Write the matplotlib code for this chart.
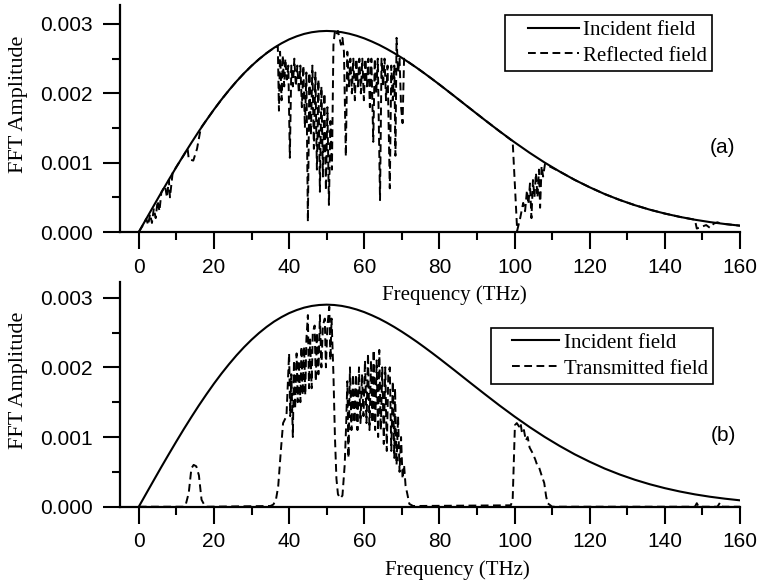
import matplotlib
matplotlib.use("Agg")
import matplotlib.pyplot as plt
import numpy as np
from matplotlib.ticker import MultipleLocator, FormatStrFormatter
from matplotlib.legend_handler import HandlerLine2D

# ---------------- data ----------------
freq_inc = [0, 2, 4, 6, 8, 10, 12, 14, 16, 18, 20, 22, 24, 26, 28, 30, 32, 34, 36, 38,
            40, 42, 44, 46, 48, 50, 52, 54, 56, 58, 60, 62, 64, 66, 68, 70, 72, 74, 76, 78,
            80, 84, 88, 92, 96, 100, 104, 108, 112, 116, 120, 124, 128, 132, 136, 140,
            144, 148, 152, 156, 160]
amp_inc = [0.0, 0.000191, 0.000381, 0.00057, 0.000755, 0.000937, 0.001115, 0.001287,
           0.001454, 0.001613, 0.001766, 0.00191, 0.002045, 0.002172, 0.002289, 0.002396,
           0.002493, 0.00258, 0.002657, 0.002722, 0.002778, 0.002822, 0.002857, 0.002881,
           0.002895, 0.0029, 0.002895, 0.002882, 0.00286, 0.00283, 0.002793, 0.002748,
           0.002698, 0.002641, 0.002579, 0.002512, 0.002441, 0.002367, 0.002289, 0.002209,
           0.002127, 0.001959, 0.001788, 0.001619, 0.001453, 0.001294, 0.001143, 0.001002,
           0.000872, 0.000752, 0.000645, 0.000547, 0.000462, 0.000387, 0.000322, 0.000266,
           0.000218, 0.000177, 0.000143, 0.000115, 0.0000914]

freq_refl = [0, 1, 2, 2.5, 3, 3.5, 4, 4.5, 5, 5.5, 6, 6.5, 7, 7.5, 8, 8.3, 9, 10, 12, 13,
             13.3, 14.5, 15.5, 16.5, 18, 20, 22, 24, 26, 28, 30, 32, 34, 36,
             37.0, 37.3, 37.6, 38.0, 38.3, 38.7, 39.0, 39.4, 39.8, 40.2, 40.6, 41.0, 41.4,
             41.8, 42.2, 42.6, 43.0, 43.4, 43.8, 44.2, 44.6, 45.0, 45.4, 45.8, 46.2, 46.6,
             47.0, 47.4, 47.8, 48.2, 48.6, 49.0, 49.4, 49.8, 50.2, 50.6, 51.0, 51.4, 51.8,
             52.2, 52.6, 53.0, 53.4, 53.8, 54.2, 54.6, 55.1, 55.5, 55.9, 56.3, 56.7, 57.1,
             57.5, 57.9, 58.3, 58.7, 59.1, 59.5, 59.9, 60.3, 60.7, 61.1, 61.5, 61.9, 62.4,
             62.8, 63.2, 63.6, 64.2, 64.6, 65.0, 65.4, 65.8, 66.2, 66.8, 67.2, 67.6, 68.0,
             68.3, 68.6, 69.0, 69.4, 69.8, 70.2, 70.6,
             72, 74, 76, 78, 80, 84, 88, 92, 96, 99.5, 100.7, 101.5, 102.3, 102.8, 103.3,
             103.7, 104.1, 104.5, 104.9, 105.3, 105.7, 106.1, 106.5, 106.8, 107.2, 107.6,
             108.1, 112, 116, 120, 124, 128, 132, 136, 140, 144, 148, 148.5, 150, 151, 152,
             153, 154, 155, 156, 160]
amp_refl = [0.0, 0.00009, 0.00019, 0.0001, 0.00026, 0.00013, 0.00034, 0.0002, 0.00045,
            0.0003, 0.00057, 0.00062, 0.00066, 0.0005, 0.00075, 0.0005, 0.00085, 0.00094,
            0.00111, 0.0012, 0.00105, 0.00103, 0.0012, 0.0015, 0.001613, 0.001766, 0.00191,
            0.002045, 0.002172, 0.002289, 0.002396, 0.002493, 0.00258, 0.002657,
            0.00268, 0.00175, 0.0026, 0.0019, 0.00255, 0.0021, 0.0025, 0.0022, 0.0024,
            0.00107, 0.0024, 0.0021, 0.0025, 0.0021, 0.0024, 0.002, 0.0024, 0.0018, 0.0024,
            0.0015, 0.0023, 0.00015, 0.0023, 0.0014, 0.0024, 0.0012, 0.0023, 0.0009, 0.0022,
            0.00058, 0.0021, 0.0008, 0.002, 0.0006, 0.0018, 0.00039, 0.0016, 0.0009, 0.0027,
            0.0029, 0.00285, 0.0029, 0.0028, 0.0027, 0.0028, 0.0026, 0.00109, 0.0026, 0.0021,
            0.0025, 0.0020, 0.0025, 0.0019, 0.0025, 0.0021, 0.0025, 0.0020, 0.0025, 0.0019,
            0.0025, 0.0021, 0.0025, 0.0018, 0.0025, 0.0013, 0.0025, 0.0020, 0.0025, 0.00046,
            0.0025, 0.0021, 0.0025, 0.0019, 0.0024, 0.00063, 0.0024, 0.0019, 0.0024, 0.0011,
            0.0028, 0.0023, 0.0025, 0.0018, 0.00157, 0.0025,
            0.002441, 0.002367, 0.002289, 0.002209, 0.002127, 0.001959, 0.001788, 0.001619,
            0.001453, 0.00131, 0.00002, 0.0002, 0.00042, 0.0003, 0.0006, 0.0004, 0.0007,
            0.0002, 0.00075, 0.0005, 0.00085, 0.0005, 0.0009, 0.00035, 0.00095, 0.0008,
            0.00098, 0.000872, 0.000752, 0.000645, 0.000547, 0.000462, 0.000387, 0.000322,
            0.000266, 0.000218, 0.000177, 0.00005, 0.00008, 0.0001, 0.00006, 0.00012,
            0.00014, 0.00012, 0.000115, 0.0000914]

freq_trans = [0, 12, 12.5, 13.3, 14, 14.6, 15.3, 16, 16.7, 17.5, 18, 35, 35.8, 36.5, 37.1,
              37.8, 38.4, 39.3, 40.0, 40.3, 40.6, 41.0, 41.3, 41.6, 42.0, 42.3, 42.6, 43.0,
              43.3, 43.6, 44.0, 44.3, 44.6, 45.0, 45.3, 45.6, 46.0, 46.3, 46.8, 47.1, 47.4,
              47.8, 48.2, 48.6, 49.0, 49.5, 49.8, 50.2, 50.7, 51.0, 51.3, 51.8, 52.2, 52.6,
              53.0, 53.6, 54.2, 54.8, 55.2, 55.5, 55.8, 56.2, 56.6, 57.0, 57.4, 57.8, 58.2,
              58.6, 59.0, 59.4, 59.8, 60.2, 60.6, 61.0, 61.4, 61.8, 62.2, 62.5, 62.9, 63.3,
              63.7, 64.0, 64.4, 64.8, 65.2, 65.6, 66.0, 66.4, 66.8, 67.2, 67.6, 68.0, 68.2,
              68.6, 69.0, 69.4, 69.8, 70.2, 70.6, 71.0, 71.4, 72.0, 73.0, 99.0, 99.5, 100.1,
              100.6, 101.2, 101.6, 102.0, 102.5, 103.0, 103.5, 104.0, 104.8, 105.5, 106.0,
              106.5, 107.2, 107.9, 108.4, 108.8, 110, 148, 148.5, 149, 154, 154.7, 155.3, 160]
amp_trans = [0.0, 0.0, 0.00003, 0.0002, 0.00055, 0.0006, 0.00058, 0.00045, 0.0001, 0.00002,
             0.0, 0.00001, 0.00003, 0.0001, 0.00029, 0.0008, 0.0012, 0.0013, 0.0022, 0.0013,
             0.0019, 0.0010, 0.0021, 0.0014, 0.0022, 0.0015, 0.0021, 0.0015, 0.0023, 0.0016,
             0.0023, 0.0016, 0.0024, 0.00275, 0.0017, 0.0024, 0.0017, 0.0025, 0.0026, 0.0018,
             0.0025, 0.0019, 0.00275, 0.0020, 0.0026, 0.0027, 0.0020, 0.0026, 0.00287, 0.0021,
             0.0027, 0.0019, 0.0010, 0.0004, 0.00018, 0.00012, 0.00016, 0.0006, 0.0012,
             0.0018, 0.0007, 0.0020, 0.0011, 0.0019, 0.0012, 0.0019, 0.0011, 0.0020, 0.0012,
             0.0019, 0.0013, 0.0021, 0.0012, 0.0022, 0.0011, 0.0021, 0.0012, 0.00225, 0.0011,
             0.0021, 0.0010, 0.00225, 0.0011, 0.0020, 0.0009, 0.0020, 0.0008, 0.0019, 0.0020,
             0.0008, 0.0018, 0.0007, 0.0017, 0.0006, 0.0013, 0.0005, 0.0010, 0.0004, 0.0006,
             0.0003, 0.0002, 0.00004, 0.00001, 0.00002, 0.0001, 0.00117, 0.0012, 0.00115,
             0.0012, 0.00105, 0.0011, 0.00095, 0.001, 0.00085, 0.00077, 0.00068, 0.0006,
             0.00057, 0.00045, 0.00034, 0.00015, 0.00005, 0.0, 0.0, 0.00005, 0.0, 0.0,
             0.00006, 0.0, 0.0]

x_ticks = [0, 20, 40, 60, 80, 100, 120, 140, 160]
y_ticks = [0.000, 0.001, 0.002, 0.003]
panel_labels = ["(a)", "(b)"]
legend_labels = [["Incident field", "Reflected field"], ["Incident field", "Transmitted field"]]

# ---------------- figure ----------------
W, H = 776, 584
fig = plt.figure(figsize=(W / 100, H / 100), dpi=100)
fig.patch.set_facecolor("white")

SANS = "Liberation Sans"
SERIF = "Liberation Serif"


class PadHandler(HandlerLine2D):
    def get_xdata(self, legend, xdescent, ydescent, width, height, fontsize):
        x0 = -xdescent + 0.25 * width
        x1 = -xdescent + width
        return np.array([x0, x1]), np.array([(x0 + x1) / 2])


def px_axes(left, right, top, bottom):
    return [left / W, 1 - bottom / H, (right - left) / W, (bottom - top) / H]


axes_specs = [
    dict(rect=px_axes(120, 740, 5, 232), ytop=0.003274, series=(freq_refl, amp_refl),
         leg=(712, 15), leg_hl=3.27, label_pos=(0.971, 0.374), xlab=(0.539, -0.233)),
    dict(rect=px_axes(120, 740, 282, 506.7), ytop=0.003225, series=(freq_trans, amp_trans),
         leg=(713, 328), leg_hl=3.03, label_pos=(0.973, 0.319), xlab=(0.544, -0.237)),
]

for i, spec in enumerate(axes_specs):
    ax = fig.add_axes(spec["rect"])
    ax.patch.set_visible(False)
    ax.set_xlim(-5, 160)
    ax.set_ylim(0, spec["ytop"])
    fx, fy = spec["series"]
    ax.plot(fx, fy, color="black", lw=1.4, linestyle=(0, (4, 2.3)),
            label=legend_labels[i][1], zorder=2)
    ax.plot(freq_inc, amp_inc, color="black", lw=1.5, label=legend_labels[i][0], zorder=3)

    for s in ["top", "right"]:
        ax.spines[s].set_visible(False)
    for s in ["left", "bottom"]:
        ax.spines[s].set_linewidth(1.6)

    ax.set_xticks(x_ticks)
    ax.xaxis.set_minor_locator(MultipleLocator(10))
    ax.set_yticks(y_ticks)
    ax.yaxis.set_minor_locator(MultipleLocator(0.0005))
    ax.yaxis.set_major_formatter(FormatStrFormatter("%.3f"))
    ax.tick_params(which="major", direction="out", length=12, width=1.5,
                   labelsize=15, pad=6.5)
    ax.tick_params(which="minor", direction="out", length=6, width=1.5)
    ax.tick_params(axis="y", which="major", pad=7.5)
    for lab in ax.get_xticklabels() + ax.get_yticklabels():
        lab.set_fontfamily(SANS)

    ax.set_ylabel("FFT Amplitude", fontfamily=SERIF, fontsize=16)
    ax.yaxis.set_label_coords(-0.148, 0.564)
    ax.set_xlabel("Frequency (THz)", fontfamily=SERIF, fontsize=15)
    ax.xaxis.set_label_coords(*spec["xlab"])

    ax.text(spec["label_pos"][0], spec["label_pos"][1], panel_labels[i],
            transform=ax.transAxes, ha="center", va="center",
            fontfamily=SANS, fontsize=15)

    handles, labels = ax.get_legend_handles_labels()
    order = [1, 0]
    lx, ly = spec["leg"]
    leg = ax.legend([handles[k] for k in order], [labels[k] for k in order],
                    loc="upper right", bbox_to_anchor=(lx / W, 1 - ly / H),
                    bbox_transform=fig.transFigure, borderaxespad=0,
                    frameon=True, fancybox=False, edgecolor="black", framealpha=1,
                    prop={"family": SERIF, "size": 15}, handlelength=spec["leg_hl"],
                    handletextpad=0.2, labelspacing=0.3, borderpad=0.25,
                    handler_map={handles[0]: PadHandler(), handles[1]: PadHandler()})
    leg.get_frame().set_linewidth(1.2)

fig.savefig("out.png", dpi=100, facecolor="white")
